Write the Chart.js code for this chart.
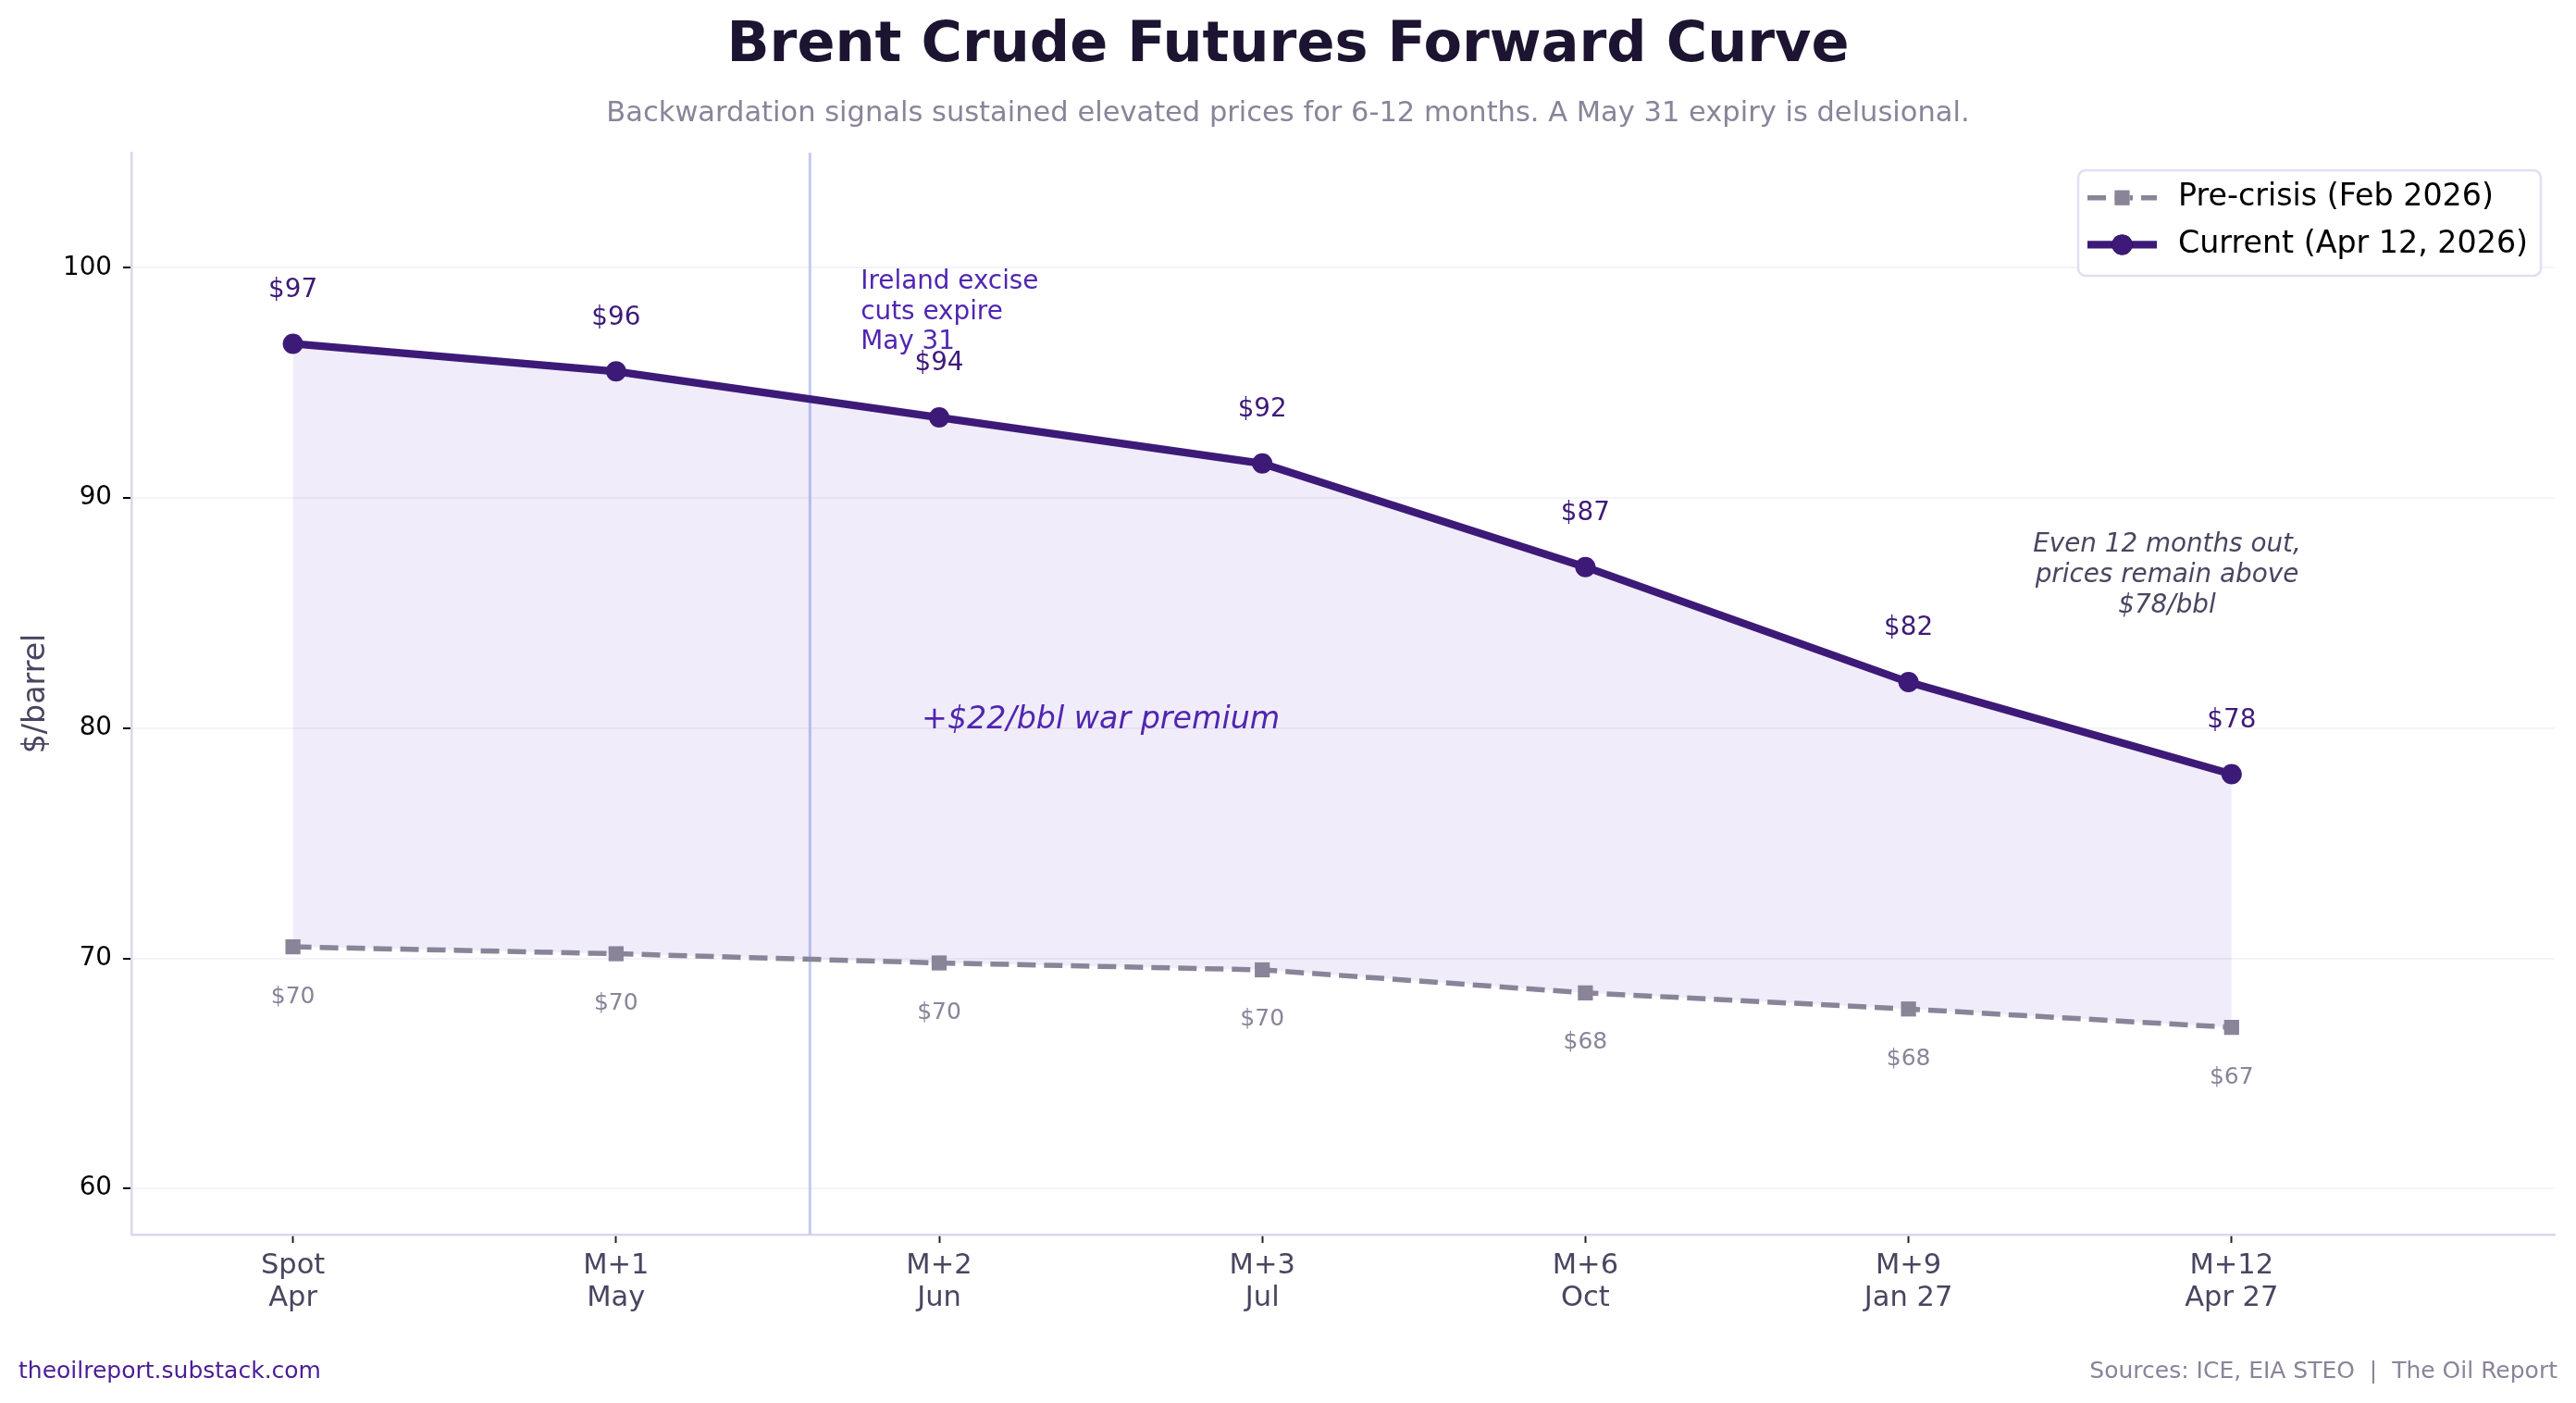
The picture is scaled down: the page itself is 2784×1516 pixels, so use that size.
<!DOCTYPE html>
<html>
<head>
<meta charset="utf-8">
<title>Brent Crude Futures Forward Curve</title>
<script src="https://cdn.jsdelivr.net/npm/chart.js@4.4.1/dist/chart.umd.min.js"></script>
<style>
    html, body { margin: 0; padding: 0; background: #fff; }
    #wrap { width: 2784px; height: 1516px; }
</style>
</head>
<body>
<div id="wrap"><canvas id="curveChart" width="2784" height="1516"></canvas></div>
<script>
// Datos (USD por barril)
const contratos = ['Spot', 'M+1', 'M+2', 'M+3', 'M+6', 'M+9', 'M+12'];
const meses = ['Apr', 'May', 'Jun', 'Jul', 'Oct', 'Jan 27', 'Apr 27'];
const preCrisis = [70.5, 70.2, 69.8, 69.5, 68.5, 67.8, 67.0];
const actual = [96.7, 95.5, 93.5, 91.5, 87.0, 82.0, 78.0];
const yTicks = [60, 70, 80, 90, 100];
const nombresSeries = ['Pre-crisis (Feb 2026)', 'Current (Apr 12, 2026)'];
const vencimientoIrlanda = 1.6; // May 31, entre M+1 y M+2

const FUENTE = "'DejaVu Sans', sans-serif";
const MORADO = '#3D1A78';
const GRIS = '#8A8499';
const ACENTO = '#5026B0';
const TEXTO = '#4A4560';

// redondeo como python (mitad al par)
function redondear(v) {
    const f = Math.floor(v);
    const d = v - f;
    if (Math.abs(d - 0.5) < 1e-9) return (f % 2 === 0) ? f : f + 1;
    return Math.round(v);
}

function texto(ctx, str, x, y, font, color, align, base) {
    ctx.font = font;
    ctx.fillStyle = color;
    ctx.textAlign = align || 'left';
    ctx.textBaseline = base || 'alphabetic';
    ctx.fillText(str, x, y);
}

const decoracion = {
    id: 'decoracion',
    beforeDatasetsDraw(chart) {
        const { ctx, chartArea, scales } = chart;
        // linea vertical del vencimiento
        const xv = scales.x.getPixelForValue(vencimientoIrlanda);
        ctx.save();
        ctx.strokeStyle = '#C2CAF0';
        ctx.lineWidth = 3;
        ctx.beginPath();
        ctx.moveTo(xv, chartArea.top);
        ctx.lineTo(xv, chartArea.bottom);
        ctx.stroke();
        ctx.restore();
    },
    afterDraw(chart) {
        const { ctx, chartArea, scales } = chart;
        const xs = scales.x, ys = scales.y;
        ctx.save();

        // titulo y subtitulo
        texto(ctx, 'Brent Crude Futures Forward Curve', 1392, 66, `bold 60.5px ${FUENTE}`, '#1C1430', 'center');
        texto(ctx, 'Backwardation signals sustained elevated prices for 6-12 months. A May 31 expiry is delusional.',
            1392, 131, `30.5px ${FUENTE}`, GRIS, 'center');

        // titulo eje y
        ctx.save();
        ctx.translate(39, (chartArea.top + chartArea.bottom) / 2);
        ctx.rotate(-Math.PI / 2);
        texto(ctx, '$/barrel', 0, 0, `33.3px ${FUENTE}`, TEXTO, 'center', 'middle');
        ctx.restore();

        // etiquetas de valores
        actual.forEach((v, i) => {
            texto(ctx, '$' + redondear(v), xs.getPixelForValue(i), ys.getPixelForValue(v) - 58,
                `27.8px ${FUENTE}`, MORADO, 'center', 'middle');
        });
        preCrisis.forEach((v, i) => {
            texto(ctx, '$' + redondear(v), xs.getPixelForValue(i), ys.getPixelForValue(v) + 54,
                `25px ${FUENTE}`, GRIS, 'center', 'middle');
        });

        // anotaciones
        const xi = xs.getPixelForValue(vencimientoIrlanda) + 55;
        const yi = ys.getPixelForValue(100);
        ['Ireland excise', 'cuts expire', 'May 31'].forEach((l, k) => {
            texto(ctx, l, xi, yi + 22.7 + k * 32.5, `27.8px ${FUENTE}`, ACENTO, 'left');
        });
        texto(ctx, '+$22/bbl war premium', xs.getPixelForValue(2.5), ys.getPixelForValue(80),
            `italic 33.3px ${FUENTE}`, ACENTO, 'center');
        const ye = ys.getPixelForValue(86.5);
        ['Even 12 months out,', 'prices remain above', '$78/bbl'].forEach((l, k) => {
            texto(ctx, l, xs.getPixelForValue(5.8), ye - 29.3 + k * 33, `italic 27.8px ${FUENTE}`, TEXTO, 'center');
        });

        // leyenda
        const lx = chartArea.right - 515, ly = chartArea.top + 19, lw = 500, lh = 114;
        ctx.beginPath();
        ctx.roundRect(lx, ly, lw, lh, 8);
        ctx.fillStyle = 'rgba(255,255,255,0.9)';
        ctx.fill();
        ctx.strokeStyle = '#E2DEF2';
        ctx.lineWidth = 2.5;
        ctx.stroke();
        chart.data.datasets.forEach((ds, i) => {
            const cy = ly + 29.7 + i * 50.7;
            ctx.save();
            ctx.strokeStyle = ds.borderColor;
            ctx.lineWidth = ds.borderWidth;
            ctx.setLineDash(ds.borderDash || []);
            ctx.beginPath();
            ctx.moveTo(lx + 10, cy);
            ctx.lineTo(lx + 85, cy);
            ctx.stroke();
            ctx.restore();
            Chart.helpers.drawPoint(ctx, { pointStyle: ds.pointStyle, radius: ds.pointRadius, rotation: 0, borderWidth: 0 }, lx + 47.5, cy);
            ctx.fillStyle = ds.pointBackgroundColor;
            ctx.fill();
            texto(ctx, ds.label, lx + 108, cy, `33.3px ${FUENTE}`, '#000', 'left', 'middle');
        });

        // pie de pagina
        texto(ctx, 'theoilreport.substack.com', 20, 1489, `25px ${FUENTE}`, '#4A1D96', 'left');
        texto(ctx, 'Sources: ICE, EIA STEO  |  The Oil Report', 2764, 1489, `25px ${FUENTE}`, GRIS, 'right');
        ctx.restore();
    }
};

const ctx = document.getElementById('curveChart').getContext('2d');
new Chart(ctx, {
    type: 'line',
    data: {
        datasets: [
            {
                label: nombresSeries[0],
                data: preCrisis.map((v, i) => ({ x: i, y: v })),
                borderColor: GRIS,
                backgroundColor: GRIS,
                borderWidth: 5.5,
                borderDash: [20, 9],
                pointStyle: 'rect',
                pointRadius: 11.5,
                pointBorderWidth: 0,
                pointBackgroundColor: GRIS,
                fill: false,
                tension: 0
            },
            {
                label: nombresSeries[1],
                data: actual.map((v, i) => ({ x: i, y: v })),
                borderColor: MORADO,
                backgroundColor: MORADO,
                borderWidth: 8.3,
                pointStyle: 'circle',
                pointRadius: 11,
                pointBorderWidth: 0,
                pointBackgroundColor: MORADO,
                fill: { target: 0, above: 'rgba(91,45,184,0.09)', below: 'rgba(91,45,184,0.09)' },
                tension: 0
            }
        ]
    },
    options: {
        responsive: false,
        devicePixelRatio: 1,
        animation: false,
        layout: { padding: { left: 0, right: 23, top: 165, bottom: 0 } },
        plugins: {
            legend: { display: false },
            tooltip: { enabled: false },
            title: { display: false }
        },
        scales: {
            x: {
                type: 'linear',
                min: -0.5,
                max: 7,
                afterBuildTicks: s => { s.ticks = contratos.map((c, i) => ({ value: i })); },
                afterFit: s => { s.height = 1516 - 1334; },
                ticks: {
                    callback: v => [contratos[v], meses[v]],
                    font: { family: FUENTE, size: 30.5, lineHeight: 1.13 },
                    color: TEXTO,
                    padding: 8,
                    maxRotation: 0,
                    autoSkip: false
                },
                grid: { drawOnChartArea: false, tickLength: 9, tickColor: '#222', tickWidth: 2 },
                border: { color: '#DCD6EE', width: 2.5 }
            },
            y: {
                min: 58,
                max: 105,
                afterBuildTicks: s => { s.ticks = yTicks.map(v => ({ value: v })); },
                afterFit: s => { s.width = 142; },
                ticks: {
                    font: { family: FUENTE, size: 27.8 },
                    color: '#000',
                    padding: 12
                },
                grid: { color: '#F4F3F8', lineWidth: 2, tickLength: 9, tickColor: '#000', tickWidth: 2 },
                border: { color: '#DCD6EE', width: 2.5 }
            }
        }
    },
    plugins: [decoracion]
});
</script>
</body>
</html>
